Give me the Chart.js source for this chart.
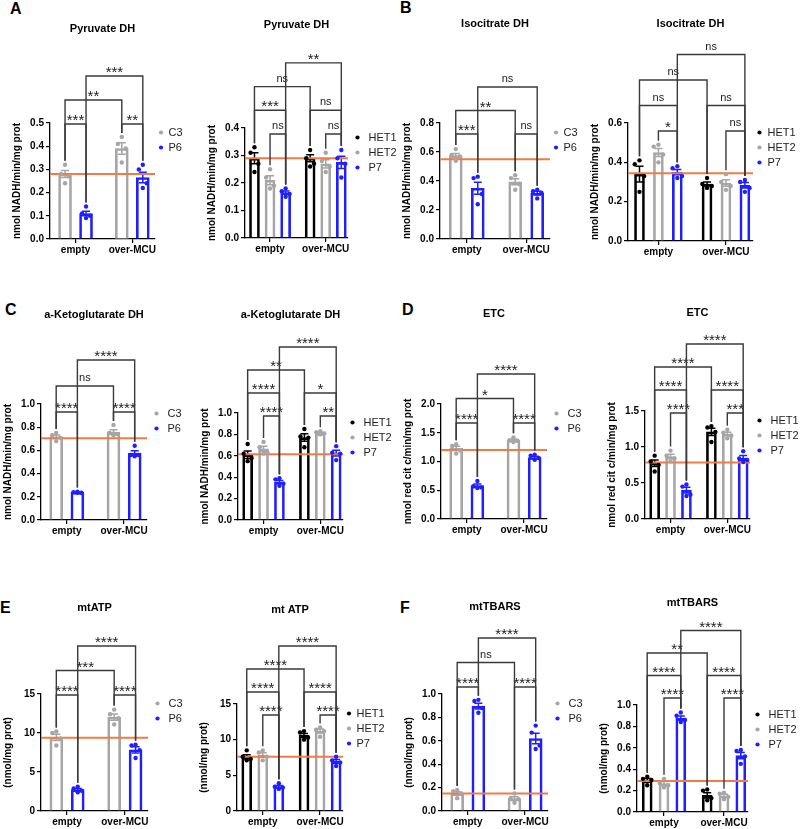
<!DOCTYPE html>
<html>
<head>
<meta charset="utf-8">
<script src="https://cdn.jsdelivr.net/npm/chart.js@4.4.0/dist/chart.umd.min.js"></script>
<style>
  html, body { margin: 0; padding: 0; background: #fff; }
  #fig { position: relative; width: 800px; height: 829px; overflow: hidden; }
  #fig canvas { position: absolute; }
  .tag { position: absolute; font: bold 16px "Liberation Sans", Arial, sans-serif; line-height: 16px; color: #000; }
</style>
</head>
<body>
<div id="fig">
  <div class="tag" style="left:10px;top:1px">A</div>
  <div class="tag" style="left:400px;top:0px">B</div>
  <div class="tag" style="left:5px;top:302px">C</div>
  <div class="tag" style="left:402px;top:302px">D</div>
  <div class="tag" style="left:0px;top:600px">E</div>
  <div class="tag" style="left:400px;top:600px">F</div>
</div>
<script>
const groups = ['empty', 'over-MCU'];
const lines2 = ['C3', 'P6'];
const lines3 = ['HET1', 'HET2', 'P7'];

// values are [series][group]; points are [series][group][replicate]
// brackets: [seriesA, groupA, seriesB, groupB, label, tier]

// Pyruvate DH
const pdh2Mean = [[0.28, 0.39], [0.11, 0.265]];
const pdh2Sem = [[0.015, 0.025], [0.01, 0.023]];
const pdh2Pts = [[[0.32, 0.28, 0.27, 0.24], [0.44, 0.41, 0.39, 0.33]],
                 [[0.14, 0.11, 0.10, 0.09], [0.32, 0.30, 0.24, 0.22]]];
const pdh2Ref = 0.28;
const pdh2Sig = [[0, 0, 1, 0, '***', 1], [0, 1, 1, 1, '**', 1], [0, 0, 0, 1, '**', 2], [1, 0, 1, 1, '***', 3]];

const pdh3Mean = [[0.29, 0.29], [0.21, 0.27], [0.165, 0.275]];
const pdh3Sem = [[0.02, 0.013], [0.016, 0.015], [0.006, 0.022]];
const pdh3Pts = [[[0.33, 0.31, 0.27, 0.24], [0.32, 0.29, 0.27, 0.26]],
                 [[0.25, 0.22, 0.19, 0.18], [0.31, 0.28, 0.26, 0.24]],
                 [[0.18, 0.17, 0.16, 0.15], [0.32, 0.29, 0.27, 0.22]]];
const pdh3Ref = 0.29;
const pdh3Sig = [[1, 0, 2, 0, 'ns', 1], [0, 0, 2, 0, '***', 2], [0, 0, 0, 1, 'ns', 3], [2, 0, 2, 1, '**', 4],
                 [1, 1, 2, 1, 'ns', 1], [0, 1, 2, 1, 'ns', 2]];

// Isocitrate DH
const idh2Mean = [[0.575, 0.395], [0.35, 0.317]];
const idh2Sem = [[0.015, 0.02], [0.042, 0.013]];
const idh2Pts = [[[0.62, 0.58, 0.57, 0.54], [0.44, 0.42, 0.38, 0.34]],
                 [[0.43, 0.42, 0.31, 0.24], [0.34, 0.33, 0.32, 0.28]]];
const idh2Ref = 0.55;
const idh2Sig = [[0, 0, 1, 0, '***', 1], [0, 1, 1, 1, 'ns', 1], [0, 0, 0, 1, '**', 2], [1, 0, 1, 1, 'ns', 3]];

const idh3Mean = [[0.34, 0.29], [0.45, 0.295], [0.35, 0.283]];
const idh3Sem = [[0.04, 0.01], [0.02, 0.017], [0.013, 0.014]];
const idh3Pts = [[[0.41, 0.39, 0.33, 0.25], [0.32, 0.29, 0.28, 0.27]],
                 [[0.49, 0.48, 0.44, 0.40], [0.34, 0.30, 0.28, 0.26]],
                 [[0.38, 0.37, 0.33, 0.32], [0.31, 0.30, 0.27, 0.25]]];
const idh3Ref = 0.345;
const idh3Sig = [[1, 0, 2, 0, '*', 1], [0, 0, 2, 0, 'ns', 2], [0, 0, 0, 1, 'ns', 3], [2, 0, 2, 1, 'ns', 4],
                 [1, 1, 2, 1, 'ns', 1], [0, 1, 2, 1, 'ns', 2]];

// a-Ketoglutarate DH
const akg2Mean = [[0.718, 0.757], [0.239, 0.577]];
const akg2Sem = [[0.015, 0.02], [0.003, 0.02]];
const akg2Pts = [[[0.75, 0.73, 0.71, 0.68], [0.82, 0.75, 0.74, 0.73]],
                 [[0.245, 0.24, 0.235, 0.235], [0.64, 0.56, 0.56, 0.55]]];
const akg2Ref = 0.705;
const akg2Sig = [[0, 0, 1, 0, '****', 1], [0, 1, 1, 1, '****', 1], [0, 0, 0, 1, 'ns', 2], [1, 0, 1, 1, '****', 3]];

const akg3Mean = [[0.61, 0.77], [0.665, 0.81], [0.355, 0.625]];
const akg3Sem = [[0.035, 0.035], [0.025, 0.008], [0.015, 0.027]];
const akg3Pts = [[[0.71, 0.62, 0.58, 0.55], [0.85, 0.78, 0.77, 0.68]],
                 [[0.73, 0.68, 0.63, 0.62], [0.83, 0.82, 0.81, 0.80]],
                 [[0.39, 0.38, 0.34, 0.32], [0.69, 0.63, 0.62, 0.56]]];
const akg3Ref = 0.615;
const akg3Sig = [[1, 0, 2, 0, '****', 1], [0, 0, 2, 0, '****', 2], [0, 0, 0, 1, '**', 3], [2, 0, 2, 1, '****', 4],
                 [1, 1, 2, 1, '**', 1], [0, 1, 2, 1, '*', 2]];

// ETC
const etc2Mean = [[1.23, 1.37], [0.58, 1.07]];
const etc2Sem = [[0.035, 0.017], [0.03, 0.02]];
const etc2Pts = [[[1.30, 1.27, 1.19, 1.14], [1.42, 1.37, 1.36, 1.34]],
                 [[0.66, 0.57, 0.55, 0.54], [1.12, 1.10, 1.06, 1.03]]];
const etc2Ref = 1.2;
const etc2Sig = [[0, 0, 1, 0, '****', 1], [0, 1, 1, 1, '****', 1], [0, 0, 0, 1, '*', 2], [1, 0, 1, 1, '****', 3]];

const etc3Mean = [[0.775, 1.21], [0.868, 1.18], [0.40, 0.847]];
const etc3Sem = [[0.045, 0.05], [0.03, 0.025], [0.04, 0.035]];
const etc3Pts = [[[0.88, 0.80, 0.75, 0.66], [1.29, 1.27, 1.21, 1.07]],
                 [[0.95, 0.88, 0.84, 0.80], [1.24, 1.20, 1.16, 1.12]],
                 [[0.48, 0.45, 0.34, 0.32], [0.94, 0.84, 0.82, 0.79]]];
const etc3Ref = 0.785;
const etc3Sig = [[1, 0, 2, 0, '****', 1], [0, 0, 2, 0, '****', 2], [0, 0, 0, 1, '****', 3], [2, 0, 2, 1, '****', 4],
                 [1, 1, 2, 1, '***', 1], [0, 1, 2, 1, '****', 2]];

// mtATP
const atp2Mean = [[9.45, 12.05], [2.75, 7.85]];
const atp2Sem = [[0.4, 0.4], [0.15, 0.4]];
const atp2Pts = [[[10.2, 10.0, 9.3, 8.4], [13.0, 12.4, 11.9, 11.1]],
                 [[3.1, 2.9, 2.6, 2.4], [8.5, 8.4, 7.8, 6.8]]];
const atp2Ref = 9.4;
const atp2Sig = [[0, 0, 1, 0, '****', 1], [0, 1, 1, 1, '****', 1], [0, 0, 0, 1, '***', 2], [1, 0, 1, 1, '****', 3]];

const atp3Mean = [[7.6, 10.6], [7.85, 11.2], [3.42, 6.95]];
const atp3Sem = [[0.3, 0.27], [0.3, 0.28], [0.17, 0.27]];
const atp3Pts = [[[8.5, 7.6, 7.3, 7.1], [11.2, 11.0, 10.3, 10.0]],
                 [[8.5, 8.2, 7.6, 7.1], [11.7, 11.4, 11.2, 10.4]],
                 [[3.9, 3.4, 3.3, 3.1], [7.6, 7.1, 6.8, 6.3]]];
const atp3Ref = 7.6;
const atp3Sig = [[1, 0, 2, 0, '****', 1], [0, 0, 2, 0, '****', 2], [0, 0, 0, 1, '****', 3], [2, 0, 2, 1, '****', 4],
                 [1, 1, 2, 1, '****', 1], [0, 1, 2, 1, '****', 2]];

// mtTBARS
const tba2Mean = [[0.15, 0.106], [0.897, 0.62]];
const tba2Sem = [[0.015, 0.016], [0.025, 0.045]];
const tba2Pts = [[[0.18, 0.17, 0.15, 0.11], [0.15, 0.11, 0.10, 0.07]],
                 [[0.95, 0.94, 0.88, 0.84], [0.73, 0.67, 0.56, 0.53]]];
const tba2Ref = 0.15;
const tba2Sig = [[0, 0, 1, 0, '****', 1], [0, 1, 1, 1, '****', 1], [0, 0, 0, 1, 'ns', 2], [1, 0, 1, 1, '****', 3]];

const tba3Mean = [[0.295, 0.155], [0.265, 0.152], [0.877, 0.527]];
const tba3Sem = [[0.017, 0.025], [0.02, 0.014], [0.02, 0.03]];
const tba3Pts = [[[0.33, 0.31, 0.30, 0.25], [0.21, 0.20, 0.13, 0.11]],
                 [[0.31, 0.27, 0.25, 0.23], [0.18, 0.17, 0.14, 0.12]],
                 [[0.93, 0.90, 0.86, 0.84], [0.58, 0.57, 0.52, 0.45]]];
const tba3Ref = 0.29;
const tba3Sig = [[1, 0, 2, 0, '****', 1], [0, 0, 2, 0, '****', 2], [0, 0, 0, 1, '**', 3], [2, 0, 2, 1, '****', 4],
                 [1, 1, 2, 1, '****', 1], [0, 1, 2, 1, '****', 2]];

const yNADH = 'nmol NADH/min/mg prot';
const yCyt = 'nmol red cit c/min/mg prot';
const yProt = '(nmol/mg prot)';

const COLORS = { C3: '#a6a6a6', P6: '#1f1fff', HET1: '#000000', HET2: '#a6a6a6', P7: '#1f1fff' };
const FONT = '"Liberation Sans", Arial, sans-serif';
const X_MIN = 0.05, X_MAX = 1.9, GROUP_X = [0.5, 1.5];
const JITTER = [0, -0.07, 0.07, 0];
const YW = 42, XH = 22, RP = 6;

// panel placement: y-axis x (x0), axis end (x1), top / zero pixel (y0, y1), title centre (ty),
// bracket base/gap in px, legend marker box width (lg)
const panels = [
  { title: 'Pyruvate DH', yTitle: yNADH, series: lines2, mean: pdh2Mean, sem: pdh2Sem, pts: pdh2Pts, ref: pdh2Ref, sig: pdh2Sig,
    max: 0.5, step: 0.1, x0: 50, x1: 155, y0: 123, y1: 239, ty: 29, base: 1, gap: 24, lg: 4 },
  { title: 'Pyruvate DH', yTitle: yNADH, series: lines3, mean: pdh3Mean, sem: pdh3Sem, pts: pdh3Pts, ref: pdh3Ref, sig: pdh3Sig,
    max: 0.4, step: 0.1, x0: 245, x1: 348, y0: 128, y1: 238, ty: 25, base: 6, gap: 23.7, lg: 11 },
  { title: 'Isocitrate DH', yTitle: yNADH, series: lines2, mean: idh2Mean, sem: idh2Sem, pts: idh2Pts, ref: idh2Ref, sig: idh2Sig,
    max: 0.8, step: 0.2, x0: 440, x1: 550, y0: 123, y1: 239, ty: 24, base: 11, gap: 23.5, lg: 4 },
  { title: 'Isocitrate DH', yTitle: yNADH, series: lines3, mean: idh3Mean, sem: idh3Sem, pts: idh3Pts, ref: idh3Ref, sig: idh3Sig,
    max: 0.6, step: 0.2, x0: 628, x1: 753, y0: 123, y1: 241, ty: 24, base: 8, gap: 25.5, lg: 5 },
  { title: 'a-Ketoglutarate DH', yTitle: yNADH, series: lines2, mean: akg2Mean, sem: akg2Sem, pts: akg2Pts, ref: akg2Ref, sig: akg2Sig,
    max: 1.0, step: 0.2, x0: 41, x1: 147, y0: 404, y1: 520, ty: 315, base: 8, gap: 26, lg: 11 },
  { title: 'a-Ketoglutarate DH', yTitle: yNADH, series: lines3, mean: akg3Mean, sem: akg3Sem, pts: akg3Pts, ref: akg3Ref, sig: akg3Sig,
    max: 1.0, step: 0.2, x0: 238, x1: 343, y0: 413, y1: 520, ty: 315, base: 3, gap: 23, lg: 11 },
  { title: 'ETC', yTitle: yCyt, series: lines2, mean: etc2Mean, sem: etc2Sem, pts: etc2Pts, ref: etc2Ref, sig: etc2Sig,
    max: 2.0, step: 0.5, x0: 441, x1: 547, y0: 404, y1: 519, ty: 314, base: 19, gap: 24.5, lg: 11 },
  { title: 'ETC', yTitle: yCyt, series: lines3, mean: etc3Mean, sem: etc3Sem, pts: etc3Pts, ref: etc3Ref, sig: etc3Sig,
    max: 1.5, step: 0.5, x0: 645, x1: 750, y0: 411, y1: 519, ty: 313, base: 2, gap: 23, lg: 11 },
  { title: 'mtATP', yTitle: yProt, series: lines2, mean: atp2Mean, sem: atp2Sem, pts: atp2Pts, ref: atp2Ref, sig: atp2Sig,
    max: 15, step: 5, x0: 41, x1: 148, y0: 694, y1: 811, ty: 608, base: 1, gap: 24.5, lg: 11 },
  { title: 'mt ATP', yTitle: yProt, series: lines3, mean: atp3Mean, sem: atp3Sem, pts: atp3Pts, ref: atp3Ref, sig: atp3Sig,
    max: 15, step: 5, x0: 237, x1: 343, y0: 704, y1: 811, ty: 610, base: 11, gap: 23, lg: 4 },
  { title: 'mtTBARS', yTitle: yProt, series: lines2, mean: tba2Mean, sem: tba2Sem, pts: tba2Pts, ref: tba2Ref, sig: tba2Sig,
    max: 1.0, step: 0.2, x0: 442, x1: 548, y0: 694, y1: 811, ty: 607, base: -7, gap: 24.5, lg: 11 },
  { title: 'mtTBARS', yTitle: yProt, series: lines3, mean: tba3Mean, sem: tba3Sem, pts: tba3Pts, ref: tba3Ref, sig: tba3Sig,
    max: 1.0, step: 0.2, x0: 637, x1: 748, y0: 705, y1: 812, ty: 603, base: -7, gap: 22.5, lg: 11 }
];

function marksPlugin(p) {
  return {
    id: 'marks',
    afterDatasetDraw(chart, args) {
      const ds = chart.data.datasets[args.index];
      if (!ds.sem) return;
      const y = chart.scales.y, ctx = chart.ctx;
      ctx.save();
      ctx.strokeStyle = ds.borderColor;
      ctx.lineWidth = 1.5;
      args.meta.data.forEach((bar, g) => {
        const m = ds.data[g].y, e = ds.sem[g];
        const yt = y.getPixelForValue(m + e), yb = y.getPixelForValue(m - e);
        ctx.beginPath();
        ctx.moveTo(bar.x, yt); ctx.lineTo(bar.x, yb);
        ctx.moveTo(bar.x - 4, yt); ctx.lineTo(bar.x + 4, yt);
        ctx.moveTo(bar.x - 4, yb); ctx.lineTo(bar.x + 4, yb);
        ctx.stroke();
      });
      ctx.restore();
    },
    afterDraw(chart) {
      const y = chart.scales.y, ctx = chart.ctx;
      const xOf = (s, g) => chart.getDatasetMeta(s).data[g].x;
      const legEnd = (s, g) => y.getPixelForValue(Math.max(...p.pts[s][g], p.mean[s][g] + p.sem[s][g])) - 4;
      ctx.save();
      ctx.strokeStyle = '#3a3a3a';
      ctx.fillStyle = '#222';
      ctx.lineWidth = 1.4;
      ctx.textAlign = 'center';
      ctx.textBaseline = 'alphabetic';
      p.sig.forEach(([s1, g1, s2, g2, label, tier]) => {
        const yl = chart.chartArea.top + p.base - (tier - 1) * p.gap;
        const xa = xOf(s1, g1), xb = xOf(s2, g2);
        ctx.beginPath();
        ctx.moveTo(xa, legEnd(s1, g1));
        ctx.lineTo(xa, yl);
        ctx.lineTo(xb, yl);
        ctx.lineTo(xb, legEnd(s2, g2));
        ctx.stroke();
        if (label === 'ns') {
          ctx.font = '11px ' + FONT;
          ctx.fillText(label, (xa + xb) / 2, yl - 5);
        } else {
          ctx.font = '15px ' + FONT;
          ctx.fillText(label, (xa + xb) / 2, yl + 1);
        }
      });
      ctx.restore();
    }
  };
}

function makePanel(p) {
  const n = p.series.length;
  const off = n === 2 ? [-0.185, 0.185] : [-0.28, 0, 0.28];
  const barW = n === 2 ? 13 : 10;
  const LW = p.lg + (n === 2 ? 27 : 41);
  const left = p.x0 - YW;
  const top = p.ty - 7;
  const width = p.x1 - left + LW + RP;
  const height = p.y1 + XH - top;

  const canvas = document.createElement('canvas');
  canvas.width = width;
  canvas.height = height;
  canvas.style.left = left + 'px';
  canvas.style.top = top + 'px';
  canvas.style.width = width + 'px';
  canvas.style.height = height + 'px';
  document.getElementById('fig').appendChild(canvas);

  const datasets = [];
  p.series.forEach((name, s) => {
    datasets.push({
      type: 'bar', label: name + ' mean',
      data: GROUP_X.map((gx, g) => ({ x: gx + off[s], y: p.mean[s][g] })),
      sem: p.sem[s],
      borderColor: COLORS[name], backgroundColor: 'rgba(255,255,255,0)',
      borderWidth: 2, barThickness: barW, grouped: false, order: 3
    });
  });
  datasets.push({
    type: 'line', label: 'ref',
    data: [{ x: X_MIN, y: p.ref }, { x: X_MAX, y: p.ref }],
    borderColor: '#f47a45', borderWidth: 2, pointRadius: 0, order: 2
  });
  p.series.forEach((name, s) => {
    const pts = [];
    p.pts[s].forEach((arr, g) => arr.forEach((v, i) => pts.push({ x: GROUP_X[g] + off[s] + JITTER[i], y: v })));
    datasets.push({
      type: 'scatter', label: name, data: pts,
      backgroundColor: COLORS[name], borderColor: COLORS[name], borderWidth: 0,
      pointRadius: 2.2, pointStyle: 'circle', order: 1
    });
  });

  new Chart(canvas, {
    type: 'bar',
    data: { datasets },
    plugins: [marksPlugin(p)],
    options: {
      responsive: false,
      animation: false,
      devicePixelRatio: 1,
      layout: { padding: { top: 0, left: 0, bottom: 0, right: RP } },
      plugins: {
        tooltip: { enabled: false },
        title: {
          display: true, text: p.title, fullSize: false, color: '#000',
          font: { family: FONT, size: 11, weight: 'bold' },
          padding: { top: 0, bottom: p.y0 - top - 13.2 }
        },
        legend: {
          position: 'right', align: 'start', fullSize: false, maxWidth: LW,
          labels: {
            filter: (item, data) => data.datasets[item.datasetIndex].type === 'scatter',
            usePointStyle: true, boxWidth: p.lg, boxHeight: 3, padding: 4,
            color: '#222', font: { family: FONT, size: 11 }
          }
        }
      },
      scales: {
        x: {
          type: 'linear', min: X_MIN, max: X_MAX, offset: false,
          afterBuildTicks: (scale) => { scale.ticks = GROUP_X.map(v => ({ value: v })); },
          afterFit: (scale) => { scale.height = XH; },
          ticks: {
            autoSkip: false, maxRotation: 0, padding: 1, color: '#000',
            font: { family: FONT, size: 10, weight: 'bold' },
            callback: (v) => groups[GROUP_X.indexOf(v)]
          },
          grid: { offset: false, drawOnChartArea: false, tickLength: 4, color: '#000', lineWidth: 1.2 },
          border: { color: '#000', width: 1.3 }
        },
        y: {
          min: 0, max: p.max,
          afterFit: (scale) => { scale.width = YW; },
          ticks: {
            stepSize: p.step, padding: 2, color: '#000',
            font: { family: FONT, size: 10, weight: 'bold' },
            callback: (v) => p.step >= 1 ? String(v) : v.toFixed(1)
          },
          title: {
            display: true, text: p.yTitle, color: '#000',
            font: { family: FONT, size: 10, weight: 'bold' },
            padding: { top: 3, bottom: 0 }
          },
          grid: { drawOnChartArea: false, tickLength: 4, color: '#000', lineWidth: 1.2 },
          border: { color: '#000', width: 1.3 }
        }
      }
    }
  });
}

panels.forEach(makePanel);
</script>
</body>
</html>
